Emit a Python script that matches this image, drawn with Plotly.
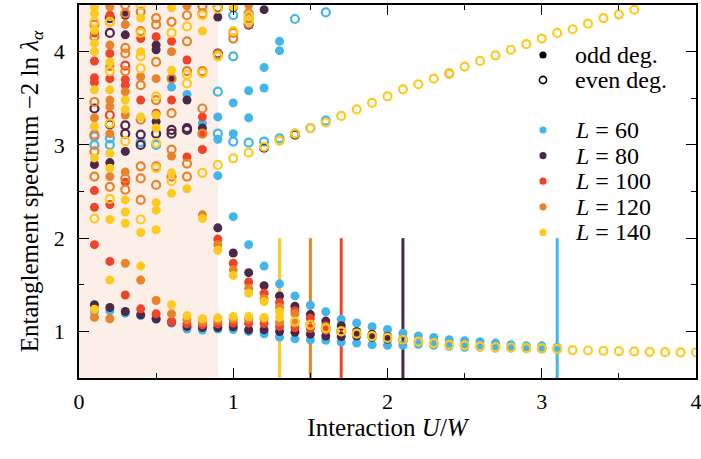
import plotly.graph_objects as go

# ---------------- data ----------------
labels_L = ["60", "80", "100", "120", "140"]
colors_L = ["#43B5EA", "#4B2848", "#EF4429", "#E8832B", "#FFCA1F"]
# Interaction U/W at which the lowest level changes degeneracy parity
crit_U = [3.1, 2.1, 1.7, 1.5, 1.3]
crit_line_top = 2.0
shade_U = [0.0, 0.9]

# L = 60  (blue)
L60_odd = [
    (0.1, 1.21), (0.2, 1.22), (0.3, 1.195), (0.4, 1.17), (0.5, 1.13), (0.6, 1.09), (0.7, 1.025),
    (0.8, 1.015), (0.9, 1.025), (1.0, 1.02), (1.1, 1.0), (1.2, 0.975), (1.3, 0.94), (1.4, 0.92),
    (1.5, 0.91), (1.6, 0.905), (1.7, 0.885), (1.8, 0.874), (1.9, 0.856), (2.0, 0.85), (2.1, 0.85),
    (2.2, 0.86), (2.3, 0.85), (2.4, 0.84), (2.5, 0.83), (2.6, 0.83), (2.7, 0.82), (2.8, 0.82),
    (2.9, 0.815), (3.0, 0.81), (3.1, 0.805),
    (0.9, 2.67), (1.0, 2.23), (1.1, 1.93), (1.2, 1.70), (1.3, 1.51), (1.4, 1.38), (1.5, 1.28),
    (1.6, 1.21), (1.7, 1.13), (1.8, 1.09), (1.9, 1.05), (2.0, 1.02), (2.1, 0.98), (2.2, 0.95),
    (2.3, 0.935), (2.4, 0.91), (2.5, 0.90), (2.6, 0.89), (2.7, 0.874), (2.8, 0.856), (2.9, 0.845),
    (3.0, 0.845), (3.1, 0.83),
    (1.3, 4.11), (1.3, 4.01), (1.2, 3.83), (1.2, 3.61), (1.1, 3.58), (1.1, 3.29), (1.0, 3.45),
    (1.0, 3.12), (0.9, 3.30), (0.9, 3.06), (0.7, 3.54), (0.8, 3.23), (0.3, 4.40), (0.6, 3.62),
]
L60_even = [
    (0.9, 3.57), (1.0, 3.95), (1.0, 4.39), (1.4, 4.35), (1.6, 4.42),
    (0.9, 3.12), (1.0, 3.035), (1.1, 3.024), (1.2, 3.035), (1.3, 3.07), (1.4, 3.12), (1.5, 3.18),
    (1.6, 3.26), (0.1, 3.09), (0.1, 3.0), (0.2, 3.07), (0.2, 3.0), (0.4, 3.03), (0.5, 3.0),
]

# L = 80  (purple)
L80_odd = [
    (0.1, 1.285), (0.2, 1.256), (0.3, 1.213), (0.4, 1.177), (0.5, 1.135), (0.6, 1.10), (0.7, 1.053),
    (0.8, 1.042), (0.9, 1.042), (1.0, 1.05), (1.1, 1.017), (1.2, 1.017), (1.3, 0.999), (1.4, 0.99),
    (1.5, 0.97), (1.6, 0.95), (1.7, 0.945), (1.8, 0.95), (1.9, 0.935), (2.0, 0.915),
    (0.9, 2.11), (1.0, 1.84), (1.1, 1.63), (1.2, 1.49), (1.3, 1.38), (1.4, 1.27), (1.5, 1.18),
    (1.6, 1.11), (1.7, 1.06), (1.8, 1.00), (1.9, 0.97), (2.0, 0.945),
    (0.1, 2.79), (0.2, 2.81), (0.3, 4.39), (0.3, 4.18), (0.3, 2.93), (0.5, 4.07), (0.5, 4.02),
    (0.5, 3.25), (0.6, 3.71), (0.7, 3.48), (0.8, 3.18), (0.9, 4.37), (1.2, 4.45), (1.0, 4.47),
]
L80_even = [
    (0.1, 3.39), (0.2, 4.36), (0.2, 4.20), (0.2, 3.22), (0.3, 3.21), (0.3, 3.12), (0.4, 3.11),
    (0.4, 3.0), (0.5, 3.12), (0.6, 3.16), (0.6, 3.12), (0.7, 3.18), (0.7, 3.16), (0.9, 4.47),
    (0.9, 3.98), (1.1, 4.29), (2.1, 0.91), (1.2, 2.97), (1.4, 3.11),
]

# L = 100  (red)
L100_odd = [
    (0.4, 1.242), (0.5, 1.188), (0.6, 1.106), (0.7, 1.081), (0.8, 1.07), (0.9, 1.081), (1.0, 1.09),
    (1.1, 1.088), (1.2, 1.085), (1.3, 1.053), (1.4, 1.04), (1.5, 1.03), (1.6, 1.01),
    (0.9, 1.99), (1.0, 1.73), (1.1, 1.53), (1.2, 1.41), (1.3, 1.31), (1.4, 1.22), (1.5, 1.14),
    (1.6, 1.06),
    (0.1, 3.90), (0.1, 3.72), (0.1, 3.67), (0.1, 2.51), (0.1, 2.33), (0.1, 1.93), (0.2, 4.39),
    (0.2, 3.98), (0.2, 3.71), (0.2, 2.36), (0.2, 1.75), (0.3, 3.70), (0.3, 3.64), (0.3, 1.39),
    (0.4, 4.14), (0.4, 3.48), (0.5, 4.16), (0.5, 3.34), (0.6, 4.11), (0.6, 3.48), (0.7, 3.91),
    (0.7, 2.87), (0.8, 3.30), (0.8, 3.12), (0.8, 2.95), (0.1, 4.20), (0.3, 2.60),
]
L100_even = [
    (0.2, 3.32), (1.7, 1.0), (0.3, 3.85),
]

# L = 120  (orange)
L120_odd = [
    (0.1, 1.152), (0.2, 1.135), (0.6, 1.188), (0.7, 1.124), (0.8, 1.10), (0.9, 1.117), (1.0, 1.13),
    (1.1, 1.131), (1.2, 1.131), (1.3, 1.10), (1.4, 1.09),
    (0.5, 1.331), (0.9, 1.93), (1.0, 1.66), (1.1, 1.46), (1.2, 1.35), (1.3, 1.26), (1.4, 1.19),
    (0.1, 3.29), (0.2, 4.48), (0.2, 4.07), (0.2, 3.84), (0.2, 3.48), (0.2, 3.41), (0.2, 3.12),
    (0.2, 2.66), (0.3, 4.29), (0.3, 3.57), (0.3, 3.32), (0.3, 2.71), (0.3, 1.73), (0.4, 3.73),
    (0.4, 1.55), (0.5, 3.71), (0.6, 4.0), (0.6, 2.88), (0.7, 4.49), (0.8, 2.25), (1.1, 4.50),
]
L120_even = [
    (0.1, 4.29), (0.1, 4.16), (0.1, 3.46), (0.1, 3.11), (0.1, 2.93), (0.1, 2.66), (0.2, 4.32),
    (0.2, 2.55), (0.3, 4.50), (0.3, 4.41), (0.3, 4.04), (0.3, 3.98), (0.3, 3.79), (0.3, 2.64),
    (0.3, 2.52), (0.4, 4.43), (0.4, 4.22), (0.4, 3.64), (0.4, 3.27), (0.4, 2.77), (0.4, 2.64),
    (0.4, 2.41), (0.5, 4.36), (0.5, 4.29), (0.5, 3.89), (0.5, 3.48), (0.5, 2.77), (0.5, 2.57),
    (0.6, 4.32), (0.6, 3.71), (0.6, 3.34), (0.6, 2.95), (0.6, 2.66), (0.7, 4.39), (0.7, 4.11),
    (0.7, 3.79), (0.7, 2.80), (0.7, 2.66), (0.8, 4.49), (0.8, 4.41), (0.8, 3.79), (0.8, 3.39),
    (0.8, 3.12), (0.9, 3.97), (1.0, 4.20), (1.0, 4.14), (1.1, 4.36), (1.1, 4.30), (1.1, 4.41),
    (1.5, 1.07), (1.6, 1.03), (2.4, 3.765),
]

# L = 140  (yellow)
L140_odd = [
    (0.1, 1.238), (0.6, 1.285), (0.7, 1.167), (0.8, 1.135), (0.9, 1.145), (1.0, 1.16), (1.1, 1.16),
    (1.2, 1.15), (1.3, 1.15),
    (0.9, 1.87), (1.0, 1.60), (1.1, 1.41), (1.2, 1.32), (1.3, 1.21),
    (0.1, 4.48), (0.1, 4.41), (0.1, 4.23), (0.1, 4.09), (0.1, 4.0), (0.1, 3.59), (0.1, 3.20),
    (0.1, 2.86), (0.2, 3.89), (0.2, 3.59), (0.2, 2.91), (0.2, 2.75), (0.2, 2.20), (0.2, 1.55),
    (0.3, 3.48), (0.3, 3.38), (0.3, 2.41), (0.3, 2.28), (0.3, 2.16), (0.4, 4.36), (0.4, 4.0),
    (0.4, 3.30), (0.4, 2.06), (0.4, 1.70), (0.5, 3.32), (0.5, 3.18), (0.5, 2.38), (0.5, 2.09),
    (0.6, 4.47), (0.6, 3.80), (0.6, 2.70), (0.7, 2.53), (0.8, 4.22), (0.8, 2.21), (1.0, 4.48),
    (0.6, 2.48), (0.5, 2.30),
]
L140_even = [
    (0.1, 4.32), (0.1, 2.21), (0.2, 4.32), (0.2, 3.79), (0.2, 3.23), (0.2, 2.42), (0.3, 3.04),
    (0.4, 4.50), (0.4, 4.20), (0.4, 3.95), (0.4, 3.82), (0.4, 2.20), (0.5, 3.52), (0.5, 3.02),
    (0.5, 2.75), (0.6, 4.20), (0.6, 2.61), (0.7, 4.27), (0.7, 3.75), (0.7, 3.66), (0.8, 4.39),
    (0.8, 3.77), (0.8, 2.70), (0.9, 4.46), (0.9, 3.95), (1.0, 4.22), (1.1, 4.38), (1.1, 4.33),
    # rising second level
    (0.9, 2.785), (1.0, 2.856), (1.1, 2.917), (1.2, 2.98), (1.3, 3.046), (1.4, 3.12), (1.5, 3.18),
    (1.6, 3.24), (1.7, 3.31), (1.8, 3.38), (1.9, 3.45), (2.0, 3.52), (2.1, 3.596), (2.2, 3.65),
    (2.3, 3.71), (2.4, 3.77), (2.5, 3.84), (2.6, 3.90), (2.7, 3.96), (2.8, 4.02), (2.9, 4.08),
    (3.0, 4.14), (3.1, 4.20), (3.2, 4.24), (3.3, 4.30), (3.4, 4.36), (3.5, 4.40), (3.6, 4.45),
    # lowest level, doubly degenerate
    (1.4, 1.106), (1.5, 1.07), (1.6, 1.035), (1.7, 1.0), (1.8, 0.975), (1.9, 0.95), (2.0, 0.93),
    (2.1, 0.91), (2.2, 0.89), (2.3, 0.874), (2.4, 0.856), (2.5, 0.85), (2.6, 0.84), (2.7, 0.83),
    (2.8, 0.827), (2.9, 0.82), (3.0, 0.817), (3.1, 0.813), (3.2, 0.80), (3.3, 0.795), (3.4, 0.792),
    (3.5, 0.788), (3.6, 0.785), (3.7, 0.781), (3.8, 0.777), (3.9, 0.774), (4.0, 0.774),
]

series_odd = [L60_odd, L80_odd, L100_odd, L120_odd, L140_odd]
series_even = [L60_even, L80_even, L100_even, L120_even, L140_even]

x_ticks = [0, 1, 2, 3, 4]
y_ticks = [1, 2, 3, 4]
x_range = [0, 4]
y_range = [0.5, 4.5]

FONT = "Liberation Serif"
TICK_SIZE = 22
TEXT_SIZE = 24
TITLE_SIZE = 25

# plot-area geometry in pixels (for legend placement)
W, H = 701, 459
ML, MR, MT, MB = 79, 5, 5, 81
PW, PH = W - ML - MR, H - MT - MB


def px_x(px):
    return (px - ML) / PW


def px_y(py):
    return 1 - (py - MT) / PH


fig = go.Figure()

for odd, even, col in zip(series_odd, series_even, colors_L):
    fig.add_trace(go.Scatter(x=[p[0] for p in odd], y=[p[1] for p in odd], mode="markers",
                             marker=dict(color=col, size=9, line=dict(width=0)),
                             showlegend=False, hoverinfo="skip"))
    fig.add_trace(go.Scatter(x=[p[0] for p in even], y=[p[1] for p in even], mode="markers",
                             marker=dict(color=col, size=8, symbol="circle-open", line=dict(width=2.2)),
                             showlegend=False, hoverinfo="skip"))

shapes = [dict(type="rect", xref="x", yref="paper", x0=shade_U[0], x1=shade_U[1], y0=0, y1=1,
               fillcolor="#FBEFE7", line=dict(width=0), layer="below")]
for u, col in zip(crit_U, colors_L):
    shapes.append(dict(type="line", xref="x", yref="y", x0=u, x1=u, y0=y_range[0], y1=crit_line_top,
                       line=dict(color=col, width=3), layer="below"))

# ---- hand-built legend (symbols as shapes, labels as text) ----
annotations = []
leg_mx = px_x(543)
leg_tx = px_x(573)
leg_entries = [("odd deg.", "black", True, 55), ("even deg.", "black", False, 80)]
for i, (lab, col) in enumerate(zip(labels_L, colors_L)):
    leg_entries.append((f"<i>L</i> = {lab}", col, True, 130 + 25.6 * i))
for text, col, filled, py in leg_entries:
    r = 3.6
    shapes.append(dict(type="circle", xref="paper", yref="paper", xsizemode="pixel", ysizemode="pixel",
                       xanchor=leg_mx, yanchor=px_y(py), x0=-r, x1=r, y0=-r, y1=r,
                       fillcolor=col if filled else "rgba(0,0,0,0)",
                       line=dict(color=col, width=0 if filled else 1.6), layer="above"))
    annotations.append(dict(text=text, xref="paper", yref="paper", x=leg_tx, y=px_y(py),
                            xanchor="left", yanchor="middle", showarrow=False,
                            font=dict(family=FONT, size=TEXT_SIZE, color="black")))

axis_common = dict(showgrid=False, zeroline=False, showline=True, linecolor="black", linewidth=1.5,
                   mirror="ticks", ticks="inside", ticklen=10, tickwidth=1, tickcolor="black",
                   automargin=False, ticklabeloverflow="allow",
                   tickfont=dict(family=FONT, size=TICK_SIZE, color="black"))

fig.update_layout(
    width=W, height=H,
    margin=dict(l=ML, r=MR, t=MT, b=MB),
    paper_bgcolor="white", plot_bgcolor="white",
    font=dict(family=FONT, size=TEXT_SIZE, color="black"),
    shapes=shapes,
    annotations=annotations,
    showlegend=False,
    xaxis=dict(range=x_range, tickvals=x_ticks, ticktext=[str(v) for v in x_ticks],
               minor=dict(dtick=0.5, ticklen=5, ticks="inside", tickcolor="black"),
               ticklabelstandoff=3,
               title=dict(text="Interaction <i>U</i>/<i>W</i>", standoff=4,
                          font=dict(family=FONT, size=TITLE_SIZE)),
               **axis_common),
    yaxis=dict(range=y_range, tickvals=y_ticks, ticktext=[str(v) for v in y_ticks],
               minor=dict(dtick=0.5, ticklen=5, ticks="inside", tickcolor="black"),
               ticklabelstandoff=8,
               title=dict(text="Entanglement spectrum −2 ln <i>λ</i><sub><i>α</i></sub>", standoff=8,
                          font=dict(family=FONT, size=TITLE_SIZE)),
               **axis_common),
)

fig.write_html("out.html")
